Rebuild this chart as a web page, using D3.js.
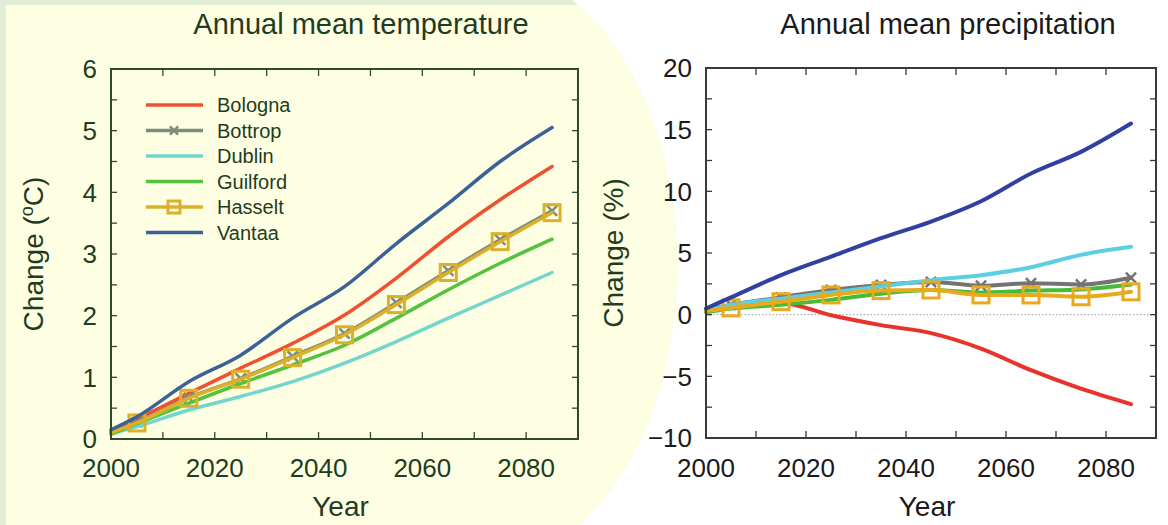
<!DOCTYPE html>
<html><head><meta charset="utf-8">
<script src="https://cdn.jsdelivr.net/npm/d3@7"></script>
<style>
html,body{margin:0;padding:0;background:#fff;}
svg{display:block;font-family:"Liberation Sans",Arial,Helvetica,sans-serif;}
</style></head>
<body>
<svg id="c" width="1168" height="525"></svg>
<script>
// ---------- DATA ----------
const years = [2000, 2005, 2015, 2025, 2035, 2045, 2055, 2065, 2075, 2085];
const cities = ["Bologna", "Bottrop", "Dublin", "Guilford", "Hasselt", "Vantaa"];

// Annual mean temperature change (°C)
const tBologna  = [0.12, 0.32, 0.74, 1.15, 1.55, 2.01, 2.61, 3.28, 3.88, 4.42];
const tBottrop  = [0.10, 0.27, 0.67, 0.98, 1.34, 1.71, 2.21, 2.73, 3.23, 3.70];
const tDublin   = [0.08, 0.20, 0.47, 0.69, 0.93, 1.23, 1.58, 1.96, 2.33, 2.70];
const tGuilford = [0.08, 0.25, 0.58, 0.90, 1.20, 1.52, 1.96, 2.42, 2.85, 3.24];
const tHasselt  = [0.10, 0.26, 0.66, 0.97, 1.32, 1.69, 2.18, 2.70, 3.20, 3.67];
const tVantaa   = [0.15, 0.36, 0.93, 1.36, 1.96, 2.47, 3.17, 3.82, 4.50, 5.05];

// Annual mean precipitation change (%)
const pBologna  = [0.4, 0.7, 0.95, -0.05, -0.85, -1.5, -2.75, -4.5, -6.0, -7.25];
const pBottrop  = [0.4, 0.8, 1.4, 2.0, 2.4, 2.65, 2.35, 2.55, 2.45, 3.0];
const pDublin   = [0.3, 0.8, 1.3, 1.8, 2.3, 2.8, 3.2, 3.85, 4.85, 5.5];
const pGuilford = [0.2, 0.5, 0.8, 1.2, 1.7, 2.0, 1.8, 1.95, 2.05, 2.45];
const pHasselt  = [0.3, 0.55, 1.05, 1.6, 1.95, 2.0, 1.6, 1.6, 1.45, 1.85];
const pVantaa   = [0.5, 1.4, 3.2, 4.7, 6.2, 7.55, 9.2, 11.45, 13.2, 15.5];

const xMajorTicks = [2000, 2020, 2040, 2060, 2080];
const tempTicks = [0, 1, 2, 3, 4, 5, 6];
const precTicks = [-10, -5, 0, 5, 10, 15, 20];

const tempSeries = [tBologna, tBottrop, tDublin, tGuilford, tHasselt, tVantaa];
const precSeries = [pBologna, pBottrop, pDublin, pGuilford, pHasselt, pVantaa];

// ---------- STYLE ----------
const markers = ["none", "times", "none", "none", "square", "none"];
const tempColors = ["#ef5030", "#7e8d7a", "#72d6cc", "#54c23f", "#deb02a", "#3b6296"];
const precColors = ["#e8332b", "#737373", "#5ccfe0", "#46bb35", "#e8a91c", "#2f40a2"];

const svg = d3.select("#c");

// background: green page, yellow panel ending in an elliptic curve
const cx = 480, cy = 265, rx = 197, ry = 300;
function shapePath(x0, y0) {
  const p = d3.path();
  p.moveTo(x0, y0);
  const dyT = y0 - cy;
  const xT = cx + rx * Math.sqrt(Math.max(0, 1 - (dyT / ry) ** 2));
  p.lineTo(xT, y0);
  const N = 120;
  const a0 = Math.asin(dyT / ry), a1 = Math.asin(Math.min(1, (525 - cy) / ry));
  for (let i = 0; i <= N; i++) {
    const a = a0 + (a1 - a0) * i / N;
    p.lineTo(cx + rx * Math.cos(a), cy + ry * Math.sin(a));
  }
  p.lineTo(x0, 525);
  p.closePath();
  return p.toString();
}
svg.append("path").attr("d", shapePath(0, 0)).attr("fill", "#e1eed6");
svg.append("path").attr("d", shapePath(6, 5)).attr("fill", "#fefee3");

function drawChart(opt) {
  const g = svg.append("g");
  const x = d3.scaleLinear().domain([2000, 2090]).range([opt.x0, opt.x1]);
  const y = d3.scaleLinear().domain(opt.yDomain).range([opt.y1, opt.y0]);

  if (opt.zeroLine) {
    g.append("line").attr("x1", opt.x0).attr("x2", opt.x1)
      .attr("y1", y(0)).attr("y2", y(0))
      .attr("stroke", "#999").attr("stroke-width", 1).attr("stroke-dasharray", "1.5,2");
  }

  // ticks (inward, mirrored)
  const xt = d3.range(2000, 2090, 10);
  xt.forEach(v => {
    g.append("line").attr("x1", x(v)).attr("x2", x(v)).attr("y1", opt.y1).attr("y2", opt.y1 - 7)
      .attr("stroke", opt.frame).attr("stroke-width", 1.3);
    g.append("line").attr("x1", x(v)).attr("x2", x(v)).attr("y1", opt.y0).attr("y2", opt.y0 + 7)
      .attr("stroke", opt.frame).attr("stroke-width", 1.3);
  });
  const yt = d3.range(opt.yDomain[0], opt.yDomain[1] + 0.001, opt.yMinor);
  yt.forEach(v => {
    g.append("line").attr("x1", opt.x0).attr("x2", opt.x0 + 6).attr("y1", y(v)).attr("y2", y(v))
      .attr("stroke", opt.frame).attr("stroke-width", 1.3);
    g.append("line").attr("x1", opt.x1).attr("x2", opt.x1 - 6).attr("y1", y(v)).attr("y2", y(v))
      .attr("stroke", opt.frame).attr("stroke-width", 1.3);
  });

  // tick labels
  g.selectAll(".xl").data(xMajorTicks).enter().append("text")
    .attr("x", d => x(d)).attr("y", 477).attr("text-anchor", "middle")
    .attr("font-size", 26).attr("fill", opt.text).text(d => d);
  g.selectAll(".yl").data(opt.yTicks).enter().append("text")
    .attr("x", opt.x0 - 14).attr("y", d => y(d)).attr("dy", "0.36em").attr("text-anchor", "end")
    .attr("font-size", 26).attr("fill", opt.text).text(d => d < 0 ? "\u2212" + Math.abs(d) : d);

  // lines
  const line = d3.line().x((d, i) => x(years[i])).y(d => y(d)).curve(d3.curveMonotoneX);
  opt.series.forEach((s, k) => {
    g.append("path").attr("d", line(s)).attr("fill", "none")
      .attr("stroke", opt.colors[k]).attr("stroke-width", opt.lw)
      .attr("stroke-linejoin", "round").attr("stroke-linecap", "round");
    if (markers[k] === "square") {
      g.selectAll(null).data(s.slice(1)).enter().append("rect")
        .attr("x", (d, i) => x(years[i + 1]) - 8).attr("y", d => y(d) - 8)
        .attr("width", 16).attr("height", 16).attr("fill", "none")
        .attr("stroke", opt.colors[k]).attr("stroke-width", 3);
    } else if (markers[k] === "times") {
      const sym = d3.symbol().type(d3.symbolTimes || d3.symbolCross).size(70);
      g.selectAll(null).data(s.slice(1)).enter().append("path")
        .attr("d", sym).attr("transform", (d, i) => `translate(${x(years[i + 1])},${y(d)})`)
        .attr("fill", "none").attr("stroke", opt.colors[k]).attr("stroke-width", 2.5);
    }
  });

  // frame
  g.append("rect").attr("x", opt.x0).attr("y", opt.y0).attr("width", opt.x1 - opt.x0).attr("height", opt.y1 - opt.y0)
    .attr("fill", "none").attr("stroke", opt.frame).attr("stroke-width", 2);

  // titles
  g.append("text").attr("x", opt.titleX).attr("y", 34).attr("text-anchor", "middle")
    .attr("font-size", 29).attr("fill", opt.text).text(opt.title);
  g.append("text").attr("x", (opt.x0 + opt.x1) / 2 - 4).attr("y", 516).attr("text-anchor", "middle")
    .attr("font-size", 28).attr("fill", opt.text).text("Year");
  const yl = g.append("text").attr("transform", `translate(${opt.yTitleX},${(opt.y0 + opt.y1) / 2}) rotate(-90)`)
    .attr("text-anchor", "middle").attr("font-size", 28).attr("fill", opt.yTitleColor);
  opt.yTitle(yl);
  return { x, y };
}

// left chart
drawChart({
  x0: 111, x1: 578, y0: 69, y1: 439, yDomain: [0, 6], yMinor: 0.5, yTicks: tempTicks,
  series: tempSeries, colors: tempColors, lw: 3.5, frame: "#2f4a2d", text: "#1f3d1e",
  title: "Annual mean temperature", titleX: 361, yTitleX: 43, yTitleColor: "#1f3d1e",
  yTitle: t => { t.append("tspan").text("Change (");
                 t.append("tspan").attr("font-size", 18).attr("dy", -10).text("o");
                 t.append("tspan").attr("dy", 10).text("C)"); }
});

// right chart
drawChart({
  x0: 706, x1: 1156, y0: 68, y1: 438, yDomain: [-10, 20], yMinor: 2.5, yTicks: precTicks,
  series: precSeries, colors: precColors, lw: 4, frame: "#3a3a3a", text: "#1a1a1a", zeroLine: true,
  title: "Annual mean precipitation", titleX: 948, yTitleX: 623, yTitleColor: "#1f3d1e",
  yTitle: t => t.text("Change (%)")
});

// legend (left chart)
const lg = svg.append("g");
cities.forEach((c, k) => {
  const yy = 105 + k * 25.5;
  lg.append("line").attr("x1", 146).attr("x2", 203).attr("y1", yy).attr("y2", yy)
    .attr("stroke", tempColors[k]).attr("stroke-width", 3.5);
  if (markers[k] === "square") {
    lg.append("rect").attr("x", 168).attr("y", yy - 6).attr("width", 12).attr("height", 12)
      .attr("fill", "none").attr("stroke", tempColors[k]).attr("stroke-width", 3);
  } else if (markers[k] === "times") {
    const sym = d3.symbol().type(d3.symbolTimes || d3.symbolCross).size(45);
    lg.append("path").attr("d", sym).attr("transform", `translate(174,${yy})`)
      .attr("fill", "none").attr("stroke", tempColors[k]).attr("stroke-width", 2.5);
  }
  lg.append("text").attr("x", 217).attr("y", yy).attr("dy", "0.36em")
    .attr("font-size", 20).attr("fill", "#1f3d1e").text(c);
});
</script>
</body></html>
